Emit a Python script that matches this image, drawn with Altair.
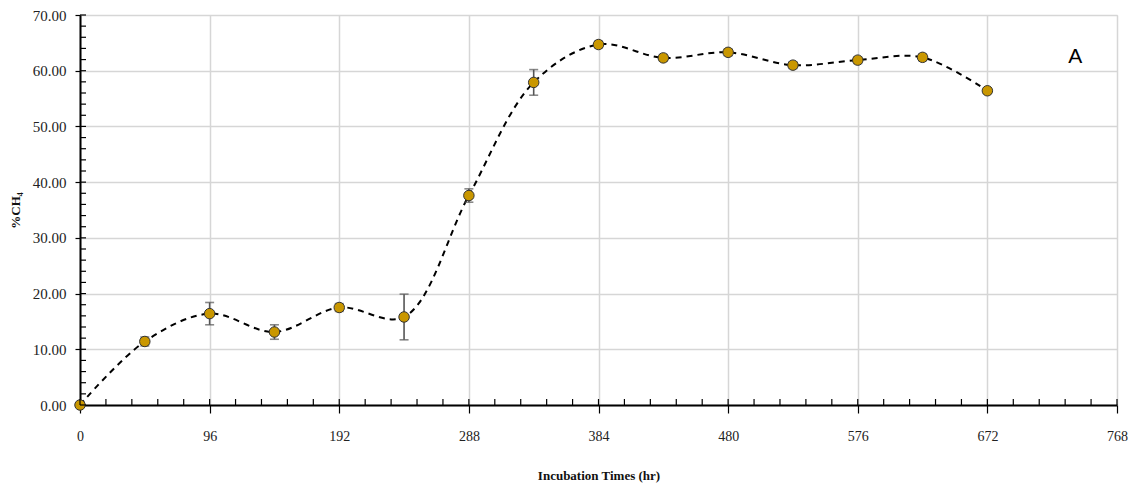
import altair as alt
import pandas as pd

# Data
times = [0, 48, 96, 144, 192, 240, 288, 336, 384, 432, 480, 528, 576, 624, 672]
ch4 = [0.0, 11.4, 16.4, 13.1, 17.5, 15.8, 37.6, 57.9, 64.7, 62.3, 63.3, 61.0, 61.9, 62.4, 56.4]
err = [0.2, 0.8, 2.0, 1.3, 0.7, 4.1, 1.2, 2.3, 0.6, 0.6, 0.6, 0.6, 0.6, 0.6, 0.5]

x_ticks = [0, 96, 192, 288, 384, 480, 576, 672, 768]
y_ticks = [0, 10, 20, 30, 40, 50, 60, 70]
x_minor = [round(i * 19.2, 1) for i in range(41) if i % 5 != 0]
y_minor = [v for v in range(0, 71, 2) if v % 10 != 0]

W, H = 1037, 390
SERIF = "Liberation Serif"

df = pd.DataFrame({"t": times, "ch4": ch4, "err": err})
df["lo"] = df["ch4"] - df["err"]
df["hi"] = df["ch4"] + df["err"]

xscale = alt.Scale(domain=[0, 768], nice=False, zero=False)
yscale = alt.Scale(domain=[0, 70], nice=False)

xaxis = alt.Axis(values=x_ticks, grid=True, gridColor="#d6d6d6", gridWidth=1.5,
                 domainColor="black", domainWidth=2, tickColor="black", tickSize=8,
                 tickWidth=1.2, labelFont=SERIF, labelFontSize=14, labelColor="#222",
                 labelPadding=16, labelFlush=False, title="Incubation Times (hr)",
                 titleFont=SERIF, titleFontSize=13, titleFontWeight="bold",
                 titleColor="#111", titlePadding=26)
yaxis = alt.Axis(values=y_ticks, format=".2f", grid=True, gridColor="#d6d6d6",
                 gridWidth=1.5, domainColor="black", domainWidth=2, tickColor="black",
                 tickSize=5, tickWidth=1.2, labelFont=SERIF, labelFontSize=15,
                 labelColor="#222", labelPadding=9, title="%CH₄", titleFont=SERIF,
                 titleFontSize=13, titleFontWeight="bold", titleColor="#111",
                 titlePadding=10)

base = alt.Chart(df)

line = base.mark_line(interpolate="catmull-rom", strokeDash=[6, 5], color="black",
                      strokeWidth=2).encode(
    x=alt.X("t:Q", scale=xscale, axis=xaxis),
    y=alt.Y("ch4:Q", scale=yscale, axis=yaxis),
)

bars = base.mark_rule(color="#555555", strokeWidth=1.6).encode(
    x=alt.X("t:Q", scale=xscale), y=alt.Y("lo:Q", scale=yscale), y2="hi:Q")
cap_lo = base.mark_tick(orient="horizontal", size=9, thickness=1.6, color="#555555").encode(
    x=alt.X("t:Q", scale=xscale), y=alt.Y("lo:Q", scale=yscale))
cap_hi = base.mark_tick(orient="horizontal", size=9, thickness=1.6, color="#555555").encode(
    x=alt.X("t:Q", scale=xscale), y=alt.Y("hi:Q", scale=yscale))

points = base.mark_point(filled=True, size=110, color="#C99700", stroke="#333333",
                         strokeWidth=1, opacity=1).encode(
    x=alt.X("t:Q", scale=xscale), y=alt.Y("ch4:Q", scale=yscale))

xm = alt.Chart(pd.DataFrame({"v": x_minor})).mark_rule(color="black", strokeWidth=1.2).encode(
    x=alt.X("v:Q", scale=xscale), y=alt.value(H - 6), y2=alt.value(H))
ym = alt.Chart(pd.DataFrame({"v": y_minor})).mark_rule(color="black", strokeWidth=1.2).encode(
    y=alt.Y("v:Q", scale=yscale), x=alt.value(0), x2=alt.value(6))
ymaj = alt.Chart(pd.DataFrame({"v": y_ticks})).mark_rule(color="black", strokeWidth=1.2).encode(
    y=alt.Y("v:Q", scale=yscale), x=alt.value(0), x2=alt.value(6))
xmaj = alt.Chart(pd.DataFrame({"v": x_ticks})).mark_rule(color="black", strokeWidth=1.2).encode(
    x=alt.X("v:Q", scale=xscale), y=alt.value(H - 6), y2=alt.value(H))

label = alt.Chart(pd.DataFrame({"t": [737], "y": [62.5], "s": ["A"]})).mark_text(
    font="Liberation Sans", fontSize=21, color="black").encode(
    x=alt.X("t:Q", scale=xscale), y=alt.Y("y:Q", scale=yscale), text="s:N")

chart = alt.layer(line, bars, cap_lo, cap_hi, points, xm, ym, ymaj, xmaj, label).properties(
    width=W, height=H,
    autosize=alt.AutoSizeParams(type="none"),
    padding={"left": 72, "top": 7, "right": 16, "bottom": 80},
).configure_view(stroke="black", strokeWidth=2).configure(background="white")

chart.save("out.html", embed_options={"renderer": "svg", "actions": False})
